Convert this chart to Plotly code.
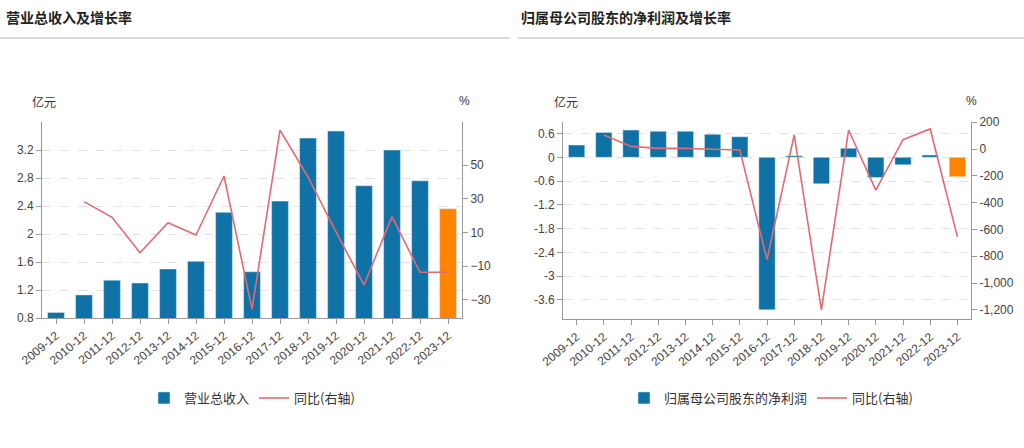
import plotly.graph_objects as go

years = ["2009-12", "2010-12", "2011-12", "2012-12", "2013-12", "2014-12", "2015-12", "2016-12",
         "2017-12", "2018-12", "2019-12", "2020-12", "2021-12", "2022-12", "2023-12"]

revenue = [0.88, 1.13, 1.34, 1.30, 1.50, 1.61, 2.31, 1.46, 2.47, 3.37, 3.47, 2.69, 3.20, 2.76, 2.36]
revenue_yoy = [None, 28.3, 19.0, -2.0, 15.8, 8.5, 43.5, -35.5, 70.7, 42.9, 10.3, -21.1, 19.4, -13.6, -13.6]

profit = [0.31, 0.63, 0.69, 0.66, 0.66, 0.58, 0.52, -3.85, 0.04, -0.67, 0.23, -0.51, -0.19, 0.06, -0.49]
profit_yoy = [None, 105, 20, 5, 5, -2, -7, -825, 105, -1200, 142, -307, 70, 150, -655]

rev_ticks = [0.8, 1.2, 1.6, 2.0, 2.4, 2.8, 3.2]
rev_ticktext = ["0.8", "1.2", "1.6", "2", "2.4", "2.8", "3.2"]
rev_pct_ticks = [-30, -10, 10, 30, 50]
prof_ticks = [-3.6, -3.0, -2.4, -1.8, -1.2, -0.6, 0, 0.6]
prof_ticktext = ["-3.6", "-3", "-2.4", "-1.8", "-1.2", "-0.6", "0", "0.6"]
prof_pct_ticks = [-1200, -1000, -800, -600, -400, -200, 0, 200]
prof_pct_ticktext = ["-1,200", "-1,000", "-800", "-600", "-400", "-200", "0", "200"]

BLUE = "#0f72a6"
ORANGE = "#ff8500"
RED = "#e46a72"
FONT = "Liberation Sans Narrow, Liberation Sans, Noto Sans CJK SC, sans-serif"
CJK = "Noto Sans CJK SC, sans-serif"
W, H = 1024, 448

def bar_colors(n):
    return [BLUE] * (n - 1) + [ORANGE]

fig = go.Figure()
fig.add_trace(go.Bar(x=years, y=revenue, name="营业总收入", marker_color=bar_colors(len(years)),
                     width=0.6, xaxis="x", yaxis="y", legend="legend", showlegend=True))
fig.add_trace(go.Scatter(x=years, y=revenue_yoy, name="同比(右轴)", mode="lines",
                         line=dict(color=RED, width=1.6), xaxis="x", yaxis="y2", legend="legend"))
fig.add_trace(go.Bar(x=years, y=profit, name="归属母公司股东的净利润", marker_color=bar_colors(len(years)),
                     width=0.6, xaxis="x2", yaxis="y3", legend="legend2"))
fig.add_trace(go.Scatter(x=years, y=profit_yoy, name="同比(右轴)", mode="lines",
                         line=dict(color=RED, width=1.6), xaxis="x2", yaxis="y4", legend="legend2"))

def px_x(v):
    return v / W

def px_y(v):
    return 1 - v / H

axis_common = dict(showline=True, linecolor="#9a9a9a", linewidth=1, ticks="outside", ticklen=5,
                   tickcolor="#9a9a9a", tickfont=dict(family=FONT, size=12, color="#444"),
                   zeroline=False, automargin=False)

xaxis_common = dict(axis_common, type="category", tickangle=-40, range=[-0.5, 14.5], showgrid=False)

fig.update_layout(
    width=W, height=H, margin=dict(l=0, r=0, t=0, b=0, autoexpand=False),
    paper_bgcolor="white", plot_bgcolor="white",
    font=dict(family=FONT, color="#333"),
    bargap=0.4,
    xaxis=dict(xaxis_common, domain=[px_x(42), px_x(462)], anchor="y"),
    yaxis=dict(axis_common, domain=[px_y(318), px_y(122)], range=[0.8, 3.6], tickvals=rev_ticks,
               ticktext=rev_ticktext, showgrid=True, gridcolor="#e2e2e2", griddash="dash", anchor="x"),
    yaxis2=dict(axis_common, overlaying="y", side="right", anchor="x", range=[-40.7, 75.5],
                tickvals=rev_pct_ticks, showgrid=False),
    xaxis2=dict(xaxis_common, domain=[px_x(563), px_x(971)], anchor="y3"),
    yaxis3=dict(axis_common, domain=[px_y(319.3), px_y(121.7)], range=[-4.09, 0.9], tickvals=prof_ticks,
                ticktext=prof_ticktext, showgrid=True, gridcolor="#e2e2e2", griddash="dash", anchor="x2"),
    yaxis4=dict(axis_common, overlaying="y3", side="right", anchor="x2", range=[-1270, 204],
                tickvals=prof_pct_ticks, ticktext=prof_pct_ticktext, showgrid=False),
    legend=dict(orientation="h", x=px_x(252), xanchor="center", y=px_y(398), yanchor="middle",
                font=dict(family=CJK, size=13, color="#333"), bgcolor="rgba(0,0,0,0)",
                itemwidth=30, tracegroupgap=0),
    legend2=dict(orientation="h", x=px_x(771), xanchor="center", y=px_y(398), yanchor="middle",
                 font=dict(family=CJK, size=13, color="#333"), bgcolor="rgba(0,0,0,0)",
                 itemwidth=30, tracegroupgap=0),
)

annotations = [
    dict(text="<b>营业总收入及增长率</b>", x=px_x(4), y=px_y(17), xanchor="left", yanchor="middle",
         font=dict(family=CJK, size=14, color="#222")),
    dict(text="<b>归属母公司股东的净利润及增长率</b>", x=px_x(519), y=px_y(17), xanchor="left",
         yanchor="middle", font=dict(family=CJK, size=14, color="#222")),
    dict(text="亿元", x=px_x(30), y=px_y(102), xanchor="left", yanchor="middle",
         font=dict(family=CJK, size=12, color="#333")),
    dict(text="%", x=px_x(464), y=px_y(101), xanchor="center", yanchor="middle",
         font=dict(family=FONT, size=12, color="#333")),
    dict(text="亿元", x=px_x(552), y=px_y(102), xanchor="left", yanchor="middle",
         font=dict(family=CJK, size=12, color="#333")),
    dict(text="%", x=px_x(971), y=px_y(101), xanchor="center", yanchor="middle",
         font=dict(family=FONT, size=12, color="#333")),
]
for a in annotations:
    a.update(xref="paper", yref="paper", showarrow=False)
fig.update_layout(annotations=annotations)

fig.update_layout(shapes=[
    dict(type="line", xref="paper", yref="paper", x0=0, x1=px_x(510), y0=px_y(38), y1=px_y(38),
         line=dict(color="#dcdcdc", width=2)),
    dict(type="line", xref="paper", yref="paper", x0=px_x(518), x1=1, y0=px_y(38), y1=px_y(38),
         line=dict(color="#dcdcdc", width=2)),
])

fig.write_html("out.html", config={"displayModeBar": False},
               post_script="document.body.style.margin='0';document.body.style.overflow='hidden';")
